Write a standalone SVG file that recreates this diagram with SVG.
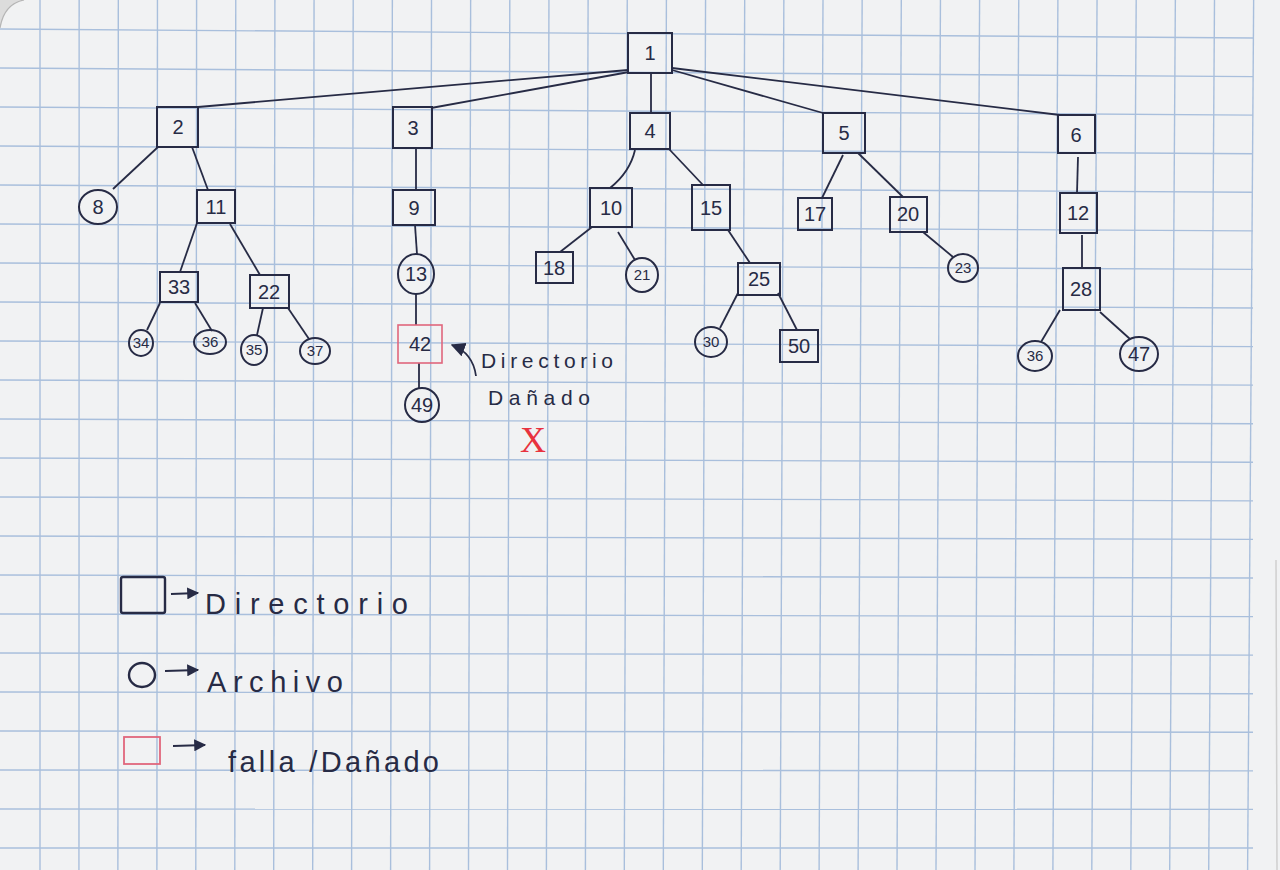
<svg xmlns="http://www.w3.org/2000/svg" width="1280" height="870" viewBox="0 0 1280 870">
<defs>
<style>
.grid line{stroke:#a9bfdc;stroke-width:1.4}
.n rect,.n ellipse{fill:none;stroke:#272b45;stroke-width:2}
.n.bad rect{stroke:#e0667c;stroke-width:1.6}
.e line,.e path{stroke:#272b45;stroke-width:1.8;fill:none}
.t{font-family:"Liberation Sans","DejaVu Sans",sans-serif;fill:#272b45;text-anchor:middle}
.b{font-size:20px}
.c{font-size:15px}
.h{font-family:"Liberation Sans","DejaVu Sans",sans-serif;fill:#272b45}
</style>
<marker id="ah" viewBox="0 0 10 10" refX="9" refY="5" markerWidth="6" markerHeight="6" orient="auto" markerUnits="strokeWidth">
<path d="M0,0 L10,5 L0,10 Z" fill="#272b45"/>
</marker>
<marker id="ah2" viewBox="0 0 10 10" refX="9" refY="5" markerWidth="8" markerHeight="8" orient="auto" markerUnits="strokeWidth">
<path d="M0,0 L10,5 L0,10 Z" fill="#272b45"/>
</marker>
</defs>
<rect width="1280" height="870" fill="#f1f2f3"/>
<path d="M0,0 L24,0 Q4,4 0,28 Z" fill="#dcdcdc"/>
<path d="M24,0 Q4,4 0,28" fill="none" stroke="#b5b5b5" stroke-width="1.2"/>
<line x1="1276" y1="560" x2="1277" y2="870" stroke="#cfcfcf" stroke-width="1.5"/>
<g class="grid">
<line x1="40" y1="0" x2="40" y2="870"/>
<line x1="79.15" y1="0" x2="78.96" y2="870"/>
<line x1="118.3" y1="0" x2="117.9" y2="870"/>
<line x1="157.45" y1="0" x2="156.9" y2="870"/>
<line x1="196.6" y1="0" x2="195.8" y2="870"/>
<line x1="235.75" y1="0" x2="234.8" y2="870"/>
<line x1="274.9" y1="0" x2="273.7" y2="870"/>
<line x1="314.05" y1="0" x2="312.7" y2="870"/>
<line x1="353.2" y1="0" x2="351.6" y2="870"/>
<line x1="392.35" y1="0" x2="390.6" y2="870"/>
<line x1="431.5" y1="0" x2="429.6" y2="870"/>
<line x1="470.65" y1="0" x2="468.5" y2="870"/>
<line x1="509.8" y1="0" x2="507.5" y2="870"/>
<line x1="548.95" y1="0" x2="546.4" y2="870"/>
<line x1="588.1" y1="0" x2="585.4" y2="870"/>
<line x1="627.25" y1="0" x2="624.3" y2="870"/>
<line x1="666.4" y1="0" x2="663.3" y2="870"/>
<line x1="705.55" y1="0" x2="702.3" y2="870"/>
<line x1="744.7" y1="0" x2="741.2" y2="870"/>
<line x1="783.85" y1="0" x2="780.2" y2="870"/>
<line x1="823" y1="0" x2="819.1" y2="870"/>
<line x1="862.15" y1="0" x2="858.1" y2="870"/>
<line x1="901.3" y1="0" x2="897" y2="870"/>
<line x1="940.45" y1="0" x2="936" y2="870"/>
<line x1="979.6" y1="0" x2="975" y2="870"/>
<line x1="1018.75" y1="0" x2="1013.9" y2="870"/>
<line x1="1057.9" y1="0" x2="1052.9" y2="870"/>
<line x1="1097.05" y1="0" x2="1091.8" y2="870"/>
<line x1="1136.2" y1="0" x2="1130.8" y2="870"/>
<line x1="1175.35" y1="0" x2="1169.7" y2="870"/>
<line x1="1214.5" y1="0" x2="1208.7" y2="870"/>
<line x1="1253.65" y1="0" x2="1247.6" y2="870"/>
<line x1="0" y1="29" x2="1253" y2="38"/>
<line x1="0" y1="68" x2="1253" y2="76.6"/>
<line x1="0" y1="107" x2="1253" y2="115.1"/>
<line x1="0" y1="146" x2="1253" y2="153.7"/>
<line x1="0" y1="185" x2="1253" y2="192.3"/>
<line x1="0" y1="224" x2="1253" y2="230.9"/>
<line x1="0" y1="263" x2="1253" y2="269.4"/>
<line x1="0" y1="302" x2="1253" y2="308"/>
<line x1="0" y1="341" x2="1253" y2="346.6"/>
<line x1="0" y1="380" x2="1253" y2="385.1"/>
<line x1="0" y1="419" x2="1253" y2="423.7"/>
<line x1="0" y1="458" x2="1253" y2="462.3"/>
<line x1="0" y1="497" x2="1253" y2="500.9"/>
<line x1="0" y1="536" x2="1253" y2="539.4"/>
<line x1="0" y1="575" x2="1253" y2="578"/>
<line x1="0" y1="614" x2="1253" y2="616.6"/>
<line x1="0" y1="653" x2="1253" y2="655.1"/>
<line x1="0" y1="692" x2="1253" y2="693.7"/>
<line x1="0" y1="731" x2="1253" y2="732.3"/>
<line x1="0" y1="770" x2="1253" y2="770.9"/>
<line x1="0" y1="809" x2="1253" y2="809.4"/>
<line x1="0" y1="848" x2="1253" y2="848"/>
</g>
<g id="connectors" class="e">
<line x1="628" y1="70" x2="198" y2="107"/>
<line x1="629" y1="72" x2="431" y2="108"/>
<line x1="651" y1="73" x2="651" y2="113"/>
<line x1="672" y1="70" x2="823" y2="113"/>
<line x1="672" y1="68" x2="1060" y2="115"/>
<line x1="158" y1="147" x2="113" y2="189"/>
<line x1="192" y1="147" x2="208" y2="190"/>
<line x1="197" y1="223" x2="180" y2="272"/>
<line x1="230" y1="224" x2="260" y2="275"/>
<line x1="160" y1="303" x2="147" y2="330"/>
<line x1="195" y1="303" x2="212" y2="331"/>
<line x1="263" y1="308" x2="257" y2="335"/>
<line x1="288" y1="308" x2="309" y2="339"/>
<line x1="416" y1="148" x2="416" y2="190"/>
<line x1="415" y1="225" x2="417" y2="254"/>
<line x1="416" y1="294" x2="416" y2="325"/>
<line x1="419" y1="363" x2="419" y2="388"/>
<path d="M635,150 Q630,172 610,188"/>
<line x1="669" y1="149" x2="703" y2="185"/>
<line x1="592" y1="227" x2="560" y2="252"/>
<line x1="618" y1="232" x2="635" y2="260"/>
<line x1="728" y1="230" x2="750" y2="263"/>
<line x1="738" y1="293" x2="720" y2="328"/>
<line x1="778" y1="293" x2="797" y2="330"/>
<line x1="843" y1="155" x2="822" y2="198"/>
<line x1="858" y1="153" x2="903" y2="197"/>
<line x1="923" y1="232" x2="953" y2="257"/>
<line x1="1078" y1="157" x2="1077" y2="193"/>
<line x1="1082" y1="235" x2="1082" y2="268"/>
<line x1="1060" y1="310" x2="1041" y2="342"/>
<line x1="1100" y1="312" x2="1130" y2="339"/>
<path d="M476,376 Q473,353 452,345" marker-end="url(#ah2)"/>
</g>
<g id="n1" class="n"><rect x="628" y="33" width="44" height="40"/><text class="t b" x="650" y="60">1</text></g>
<g id="n2" class="n"><rect x="157" y="107" width="41" height="40"/><text class="t b" x="178" y="134">2</text></g>
<g id="n3" class="n"><rect x="393" y="107" width="39" height="41"/><text class="t b" x="413" y="135">3</text></g>
<g id="n4" class="n"><rect x="630" y="113" width="40" height="36"/><text class="t b" x="650" y="138">4</text></g>
<g id="n5" class="n"><rect x="823" y="113" width="42" height="40"/><text class="t b" x="844" y="140">5</text></g>
<g id="n6" class="n"><rect x="1058" y="115" width="37" height="38"/><text class="t b" x="1076" y="142">6</text></g>
<g id="n8" class="n"><ellipse cx="98" cy="207" rx="19" ry="17"/><text class="t b" x="98" y="214">8</text></g>
<g id="n11" class="n"><rect x="197" y="190" width="38" height="33"/><text class="t b" x="216" y="214">11</text></g>
<g id="n33" class="n"><rect x="160" y="272" width="38" height="30"/><text class="t b" x="179" y="294">33</text></g>
<g id="n22" class="n"><rect x="250" y="275" width="39" height="33"/><text class="t b" x="269" y="299">22</text></g>
<g id="n34" class="n"><ellipse cx="141" cy="343" rx="12" ry="13"/><text class="t c" x="141" y="348">34</text></g>
<g id="n36a" class="n"><ellipse cx="210" cy="342" rx="16" ry="12"/><text class="t c" x="210" y="347">36</text></g>
<g id="n35" class="n"><ellipse cx="254" cy="350" rx="13" ry="15"/><text class="t c" x="254" y="355">35</text></g>
<g id="n37" class="n"><ellipse cx="315" cy="351" rx="15" ry="13"/><text class="t c" x="315" y="356">37</text></g>
<g id="n9" class="n"><rect x="393" y="190" width="42" height="35"/><text class="t b" x="414" y="215">9</text></g>
<g id="n13" class="n"><ellipse cx="416" cy="274" rx="18" ry="20"/><text class="t b" x="416" y="281">13</text></g>
<g id="n42" class="n bad"><rect x="398" y="325" width="44" height="38"/><text class="t b" x="420" y="351">42</text></g>
<g id="n49" class="n"><ellipse cx="422" cy="405" rx="17" ry="17"/><text class="t b" x="422" y="412">49</text></g>
<g id="n10" class="n"><rect x="590" y="188" width="42" height="39"/><text class="t b" x="611" y="215">10</text></g>
<g id="n15" class="n"><rect x="692" y="185" width="38" height="45"/><text class="t b" x="711" y="215">15</text></g>
<g id="n18" class="n"><rect x="536" y="252" width="37" height="31"/><text class="t b" x="554" y="275">18</text></g>
<g id="n21" class="n"><ellipse cx="642" cy="275" rx="16" ry="17"/><text class="t c" x="642" y="280">21</text></g>
<g id="n25" class="n"><rect x="738" y="263" width="42" height="32"/><text class="t b" x="759" y="286">25</text></g>
<g id="n30" class="n"><ellipse cx="711" cy="342" rx="16" ry="15"/><text class="t c" x="711" y="347">30</text></g>
<g id="n50" class="n"><rect x="780" y="330" width="38" height="32"/><text class="t b" x="799" y="353">50</text></g>
<g id="n17" class="n"><rect x="798" y="198" width="34" height="32"/><text class="t b" x="815" y="221">17</text></g>
<g id="n20" class="n"><rect x="890" y="197" width="37" height="35"/><text class="t b" x="908" y="221">20</text></g>
<g id="n23" class="n"><ellipse cx="963" cy="268" rx="15" ry="14"/><text class="t c" x="963" y="273">23</text></g>
<g id="n12" class="n"><rect x="1060" y="193" width="37" height="40"/><text class="t b" x="1078" y="220">12</text></g>
<g id="n28" class="n"><rect x="1063" y="268" width="37" height="42"/><text class="t b" x="1081" y="296">28</text></g>
<g id="n36b" class="n"><ellipse cx="1035" cy="356" rx="17" ry="15"/><text class="t c" x="1035" y="361">36</text></g>
<g id="n47" class="n"><ellipse cx="1139" cy="354" rx="19" ry="17"/><text class="t b" x="1139" y="361">47</text></g>
<g id="note">
<text class="h" x="481" y="368" font-size="21" textLength="132" lengthAdjust="spacing">Directorio</text>
<text class="h" x="488" y="405" font-size="21" textLength="102" lengthAdjust="spacing">Dañado</text>
<text x="533" y="452" font-family="Liberation Serif, serif" font-size="36" fill="#e8323e" text-anchor="middle">X</text>
</g>
<g id="legend">
<rect x="121" y="577" width="44" height="36" fill="none" stroke="#272b45" stroke-width="2.4" rx="2"/>
<line x1="171" y1="594" x2="198" y2="593" stroke="#272b45" stroke-width="2" marker-end="url(#ah)"/>
<text class="h" x="205" y="614" font-size="29" textLength="203" lengthAdjust="spacing">Directorio</text>
<ellipse cx="142" cy="675" rx="13" ry="12" fill="none" stroke="#272b45" stroke-width="2.4"/>
<line x1="165" y1="671" x2="198" y2="670" stroke="#272b45" stroke-width="2" marker-end="url(#ah)"/>
<text class="h" x="207" y="692" font-size="29" textLength="136" lengthAdjust="spacing">Archivo</text>
<rect x="124" y="737" width="36" height="27" fill="none" stroke="#e0667c" stroke-width="1.8"/>
<line x1="173" y1="746" x2="205" y2="745" stroke="#272b45" stroke-width="2" marker-end="url(#ah)"/>
<text class="h" x="228" y="772" font-size="29" textLength="211" lengthAdjust="spacing">falla /Dañado</text>
</g>
</svg>
